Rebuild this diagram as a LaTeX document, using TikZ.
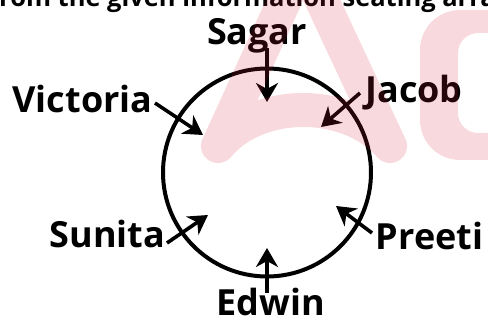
\documentclass[tikz,border=0pt]{standalone}
\usepackage{fontspec}
\setmainfont{Open Sans}
\usetikzlibrary{arrows.meta}
\definecolor{wm}{RGB}{216,33,61}
\begin{document}
\begin{tikzpicture}[x=1pt,y=-1pt,
  lbl/.style={font=\fontsize{36}{42}\selectfont\bfseries, inner sep=0pt, anchor=base, text depth=0pt},
  arr/.style={line width=3.6pt, -{Stealth[length=19pt,width=22pt,inset=6pt]}},
  ]
\useasboundingbox (0,0) rectangle (488,323);
\clip (0,0) rectangle (488,323);
% partly cut title line
\node[font=\fontsize{25.5}{30}\selectfont\bfseries, inner sep=0pt, anchor=base west] (title) at (-1,7) {\llap{F}rom the given information seating arrangement};
% circle
\node[circle, draw, line width=4pt, minimum size=208pt, inner sep=0pt] (table) at (267,172.5) {};
% labels
\node[lbl] (sagar) at (257,45) {Sagar};
\node[lbl] (victoria) at (82.5,113) {Victoria};
\node[lbl] (jacob) at (414,103) {Jacob};
\node[lbl] (sunita) at (107.5,248) {Sunita};
\node[lbl] (preeti) at (429.5,250) {Preeti};
\node[lbl] (edwin) at (270.5,316) {Edwin};
% arrow end points
\coordinate (sagarA) at (267,48);   \coordinate (sagarB) at (267,102);
\coordinate (jacobA) at (360,93);   \coordinate (jacobB) at (321,127);
\coordinate (victA) at (155,103);   \coordinate (victB) at (203,135);
\coordinate (sunA) at (167,243);    \coordinate (sunB) at (208,215);
\coordinate (preA) at (372,233);    \coordinate (preB) at (336,206);
\coordinate (edA) at (267,293);     \coordinate (edB) at (267,248);
\draw[arr] (sagarA) -- (sagarB);
\draw[arr] (jacobA) -- (jacobB);
\draw[arr] (victA) -- (victB);
\draw[arr] (sunA) -- (sunB);
\draw[arr] (preA) -- (preB);
\draw[arr] (edA) -- (edB);
% watermark
\draw[wm, draw opacity=0.17, line width=34pt, line cap=round, line join=round]
  (218,146) -- (303,-40) -- (390,146)
  (218,146) .. controls (258,98) and (348,98) .. (390,146);
\fill[wm, fill opacity=0.17, even odd rule, rounded corners=40pt]
  (420,10) rectangle (600,160)
  [rounded corners=20pt] (458,33) rectangle (600,133);
\end{tikzpicture}
\end{document}
